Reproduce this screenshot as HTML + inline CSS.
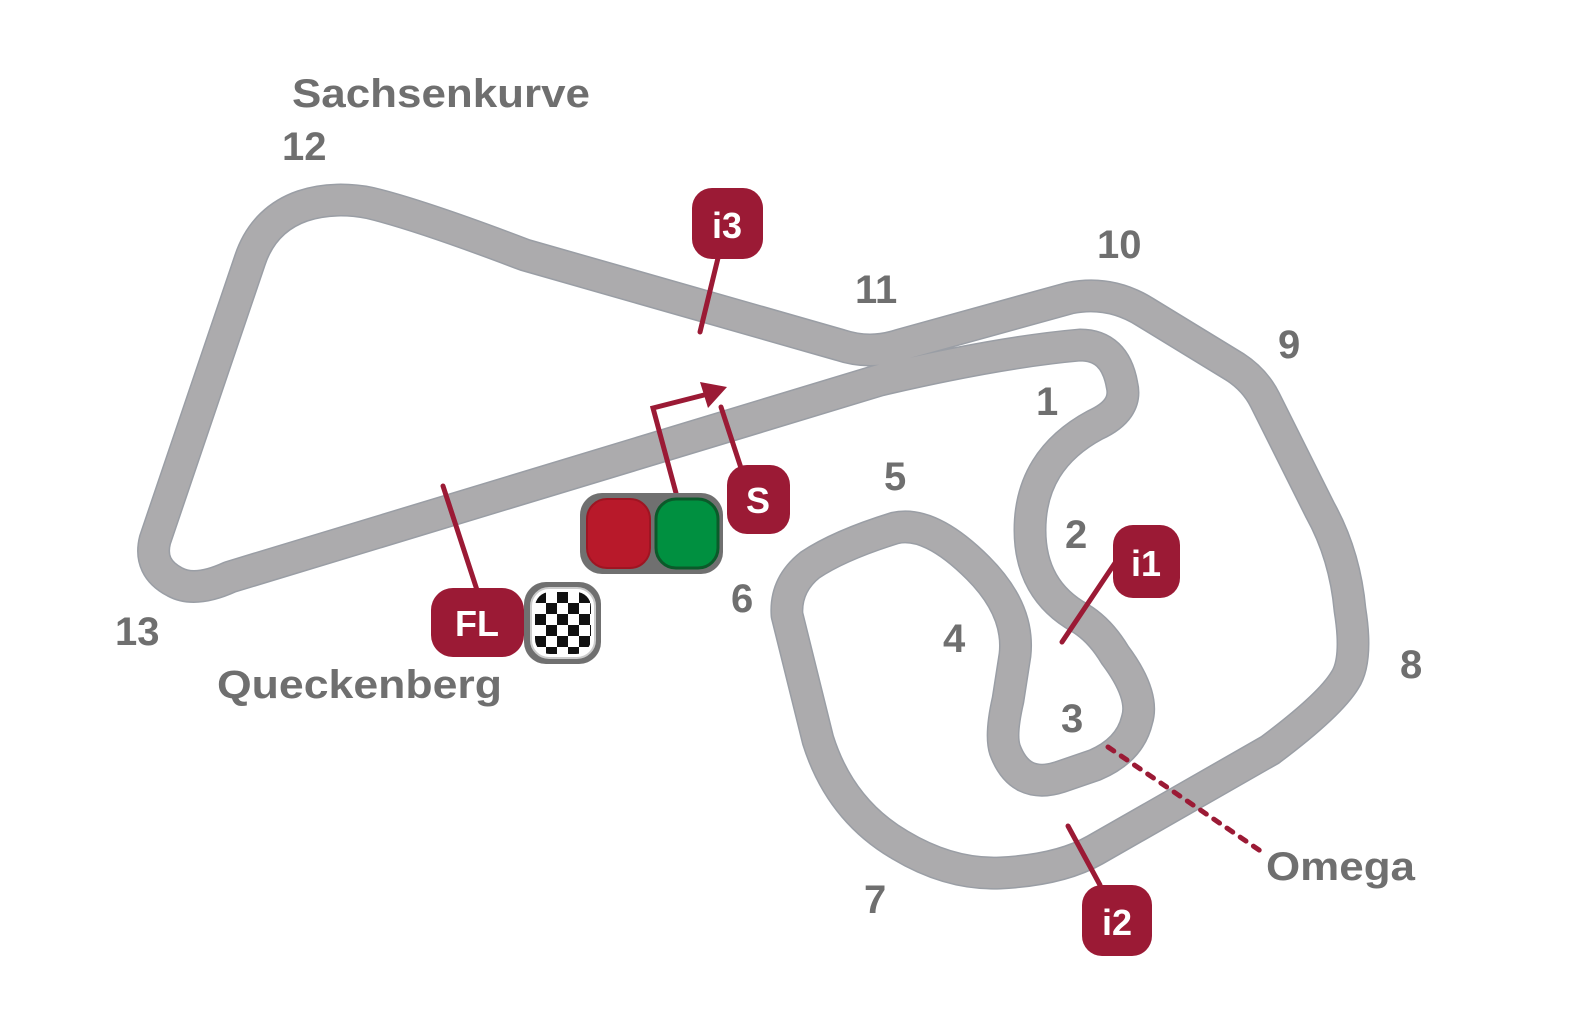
<!DOCTYPE html>
<html><head><meta charset="utf-8"><style>
html,body{margin:0;padding:0;background:#fff;}
svg{display:block}
.t{font-family:"Liberation Sans",sans-serif;font-weight:bold;fill:#6f6f6f;font-size:40px}
.b{font-family:"Liberation Sans",sans-serif;font-weight:bold;fill:#fff;font-size:36px;text-anchor:middle}
</style></head><body>
<svg width="1571" height="1034" viewBox="0 0 1571 1034" xmlns="http://www.w3.org/2000/svg">
<defs>
<path id="trk" d="M 230,577 L 880,380 Q 1000,352 1080,345 Q 1115,345 1122,385 Q 1128,410 1095,425 Q 1030,460 1030,530 Q 1030,590 1080,618 Q 1100,630 1115,655 Q 1145,695 1137,720 Q 1130,750 1095,765 L 1060,777 Q 1020,790 1005,750 Q 1000,735 1008,700 L 1015,655 Q 1020,610 978,568 Q 930,520 895,528 Q 840,545 810,565 Q 785,585 787,615 L 818,740 Q 840,810 900,845 Q 950,875 1000,873 Q 1060,870 1095,850 L 1270,750 Q 1330,705 1345,680 Q 1358,660 1350,610 Q 1345,555 1320,510 L 1265,400 Q 1255,380 1235,367 L 1145,312 Q 1110,290 1070,298 L 900,345 Q 870,355 840,345 L 525,255 Q 420,215 370,203 C 330,195 270,200 250,260 L 155,540 Q 148,568 175,582 Q 195,593 230,577 Z" fill="none"/>
<pattern id="ck" x="535" y="592" width="22" height="22" patternUnits="userSpaceOnUse"><rect width="22" height="22" fill="#fff"/><rect width="11" height="11" fill="#111"/><rect x="11" y="11" width="11" height="11" fill="#111"/></pattern>
</defs>
<use href="#trk" stroke="#9a9ea5" stroke-width="33" stroke-linejoin="round"/>
<use href="#trk" stroke="#acabad" stroke-width="30" stroke-linejoin="round"/>
<g class="t">
<text x="292" y="107" textLength="298" lengthAdjust="spacingAndGlyphs">Sachsenkurve</text>
<text x="282" y="160">12</text>
<text x="1097" y="258">10</text>
<text x="855" y="303">11</text>
<text x="1278" y="358">9</text>
<text x="1036" y="415">1</text>
<text x="884" y="490">5</text>
<text x="1065" y="548">2</text>
<text x="731" y="612">6</text>
<text x="943" y="652">4</text>
<text x="1061" y="732">3</text>
<text x="1400" y="678">8</text>
<text x="864" y="913">7</text>
<text x="115" y="645">13</text>
<text x="217" y="698" textLength="285" lengthAdjust="spacingAndGlyphs">Queckenberg</text>
<text x="1266" y="880" textLength="149" lengthAdjust="spacingAndGlyphs">Omega</text>
</g>
<g stroke="#9b1a35" stroke-width="5" stroke-linecap="round" fill="none">
<line x1="718" y1="258" x2="700" y2="332"/>
<line x1="1115" y1="563" x2="1062" y2="642"/>
<line x1="1100" y1="885" x2="1068" y2="826"/>
<line x1="741" y1="468" x2="721" y2="407"/>
<line x1="477" y1="590" x2="443" y2="486"/>
<polyline points="676,493 653,408 708,394"/>
<line x1="1108" y1="747" x2="1262" y2="852" stroke-dasharray="7,9"/>
</g>
<polygon points="700,382 727,387 708,408" fill="#9b1a35"/>
<rect x="692" y="188" width="71" height="71" rx="20" fill="#9b1a35"/>
<text class="b" x="727" y="238">i3</text>
<rect x="1113" y="525" width="67" height="73" rx="20" fill="#9b1a35"/>
<text class="b" x="1146" y="576">i1</text>
<rect x="1082" y="885" width="70" height="71" rx="20" fill="#9b1a35"/>
<text class="b" x="1117" y="935">i2</text>
<rect x="727" y="465" width="63" height="69" rx="20" fill="#9b1a35"/>
<text class="b" x="758" y="513">S</text>
<rect x="431" y="588" width="93" height="69" rx="22" fill="#9b1a35"/>
<text class="b" x="477" y="636">FL</text>
<rect x="580" y="493" width="143" height="81" rx="22" fill="#707070"/>
<rect x="587" y="499" width="63" height="69" rx="20" fill="#b8192a" stroke="#9e1522" stroke-width="2"/>
<rect x="656" y="499" width="62" height="69" rx="20" fill="#009040" stroke="#0b5a2a" stroke-width="3"/>
<rect x="524" y="582" width="77" height="82" rx="22" fill="#707070"/>
<rect x="531" y="588" width="64" height="70" rx="18" fill="#fff" stroke="#ccc" stroke-width="2"/>
<rect x="535" y="592" width="56" height="62" rx="15" fill="url(#ck)"/>
</svg>
</body></html>
